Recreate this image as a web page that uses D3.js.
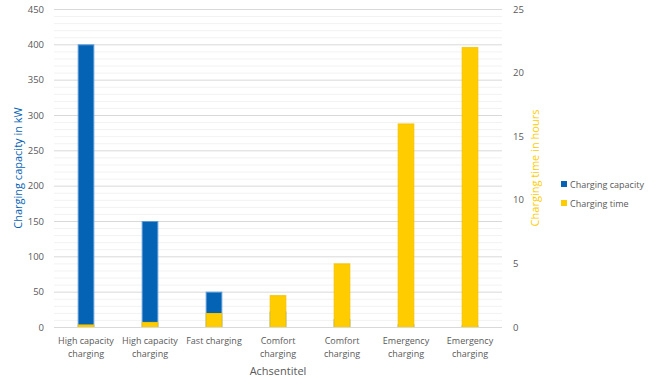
<!DOCTYPE html>
<html><head><meta charset="utf-8">
<script src="https://cdn.jsdelivr.net/npm/d3@7"></script>
<style>body{margin:0;background:#fff}svg{display:block}text{font-family:"Open Sans",sans-serif}</style>
</head><body>
<svg id="c" width="652" height="389"></svg>
<script>
const categories = [["High capacity","charging"],["High capacity","charging"],["Fast charging"],["Comfort","charging"],["Comfort","charging"],["Emergency","charging"],["Emergency","charging"]];
const capacity = [400, 150, 50, 22, 11, 3.7, 2.3];
const chargeTime = [0.2, 0.4, 1.1, 2.5, 5, 16, 22];
const leftTicks = [0,50,100,150,200,250,300,350,400,450];
const rightTicks = [0,5,10,15,20,25];
const seriesNames = ["Charging capacity","Charging time"];
const blue = "#0563b5", yellow = "#ffcc00", gray = "#595959";

const svg = d3.select("#c");
const L = 54, R = 502, T = 9, B = 327;
const idx = categories.map((d,i)=>i);
const x = d3.scaleBand().domain(idx).range([L,R]).paddingInner(0.74).paddingOuter(0.37);
const yL = d3.scaleLinear().domain([0,450]).range([B,T]);
const yR = d3.scaleLinear().domain([0,25]).range([B,T]);

const minor = d3.range(0,451,10).filter(v=>v%50!==0);
svg.append("g").selectAll("line").data(minor).join("line")
  .attr("x1",L).attr("x2",R).attr("y1",d=>yL(d)+0.5).attr("y2",d=>yL(d)+0.5)
  .attr("stroke","#f2f2f2").attr("stroke-width",1);
svg.append("g").selectAll("line").data(leftTicks).join("line")
  .attr("x1",L).attr("x2",R).attr("y1",d=>yL(d)+0.5).attr("y2",d=>yL(d)+0.5)
  .attr("stroke","#d9d9d9").attr("stroke-width",1);

svg.append("g").selectAll("rect").data(capacity).join("rect")
  .attr("x",(d,i)=>x(i)+0.5).attr("width",x.bandwidth()-1)
  .attr("y",d=>yL(d)+0.5).attr("height",d=>B-yL(d))
  .attr("fill",blue).attr("stroke","#5b9bd5").attr("stroke-width",1);
svg.append("g").selectAll("rect").data(chargeTime).join("rect")
  .attr("x",(d,i)=>x(i)+0.5).attr("width",x.bandwidth()-1)
  .attr("y",d=>yR(d)+0.5).attr("height",d=>B-yR(d))
  .attr("fill",yellow).attr("stroke","#f5c400").attr("stroke-width",1);

const axL = d3.axisLeft(yL).tickValues(leftTicks).tickSize(0).tickPadding(10);
const gL = svg.append("g").attr("transform",`translate(${L},0)`).call(axL);
gL.select(".domain").remove();
gL.selectAll("text").attr("fill",gray).style("font-size","9.5px");

const axR = d3.axisRight(yR).tickValues(rightTicks).tickSize(0).tickPadding(11);
const gR = svg.append("g").attr("transform",`translate(${R},0)`).call(axR);
gR.select(".domain").remove();
gR.selectAll("text").attr("fill",gray).style("font-size","9.5px");

const axB = d3.axisBottom(x).tickSize(0).tickFormat(()=> "");
const gB = svg.append("g").attr("transform",`translate(0,${B})`).call(axB);
gB.select(".domain").attr("stroke","#d9d9d9").attr("d",`M${L},0.5H${R}`);
gB.selectAll(".tick").each(function(d){
  const t = d3.select(this).append("text").attr("fill",gray).style("font-size","9px").attr("text-anchor","middle");
  categories[d].forEach((line,k)=>t.append("tspan").attr("x",0).attr("y",17+k*13).text(line));
});

svg.append("text").attr("x",(L+R)/2).attr("y",375).attr("text-anchor","middle").attr("fill",gray).style("font-size","11px").text("Achsentitel");
svg.append("text").attr("transform","translate(22,168) rotate(-90)").attr("text-anchor","middle").attr("fill",blue).style("font-size","11px").text("Charging capacity in kW");
svg.append("text").attr("transform","translate(539,168) rotate(-90)").attr("text-anchor","middle").attr("fill",yellow).style("font-size","11px").text("Charging time in hours");

const lg = svg.append("g").selectAll("g").data(seriesNames).join("g").attr("transform",(d,i)=>`translate(561,${180+i*19})`);
lg.append("rect").attr("width",6).attr("height",6).attr("y",1).attr("fill",(d,i)=>i?yellow:blue);
lg.append("text").attr("x",9).attr("y",7.5).attr("fill",gray).style("font-size","9px").text(d=>d);
</script>
</body></html>
